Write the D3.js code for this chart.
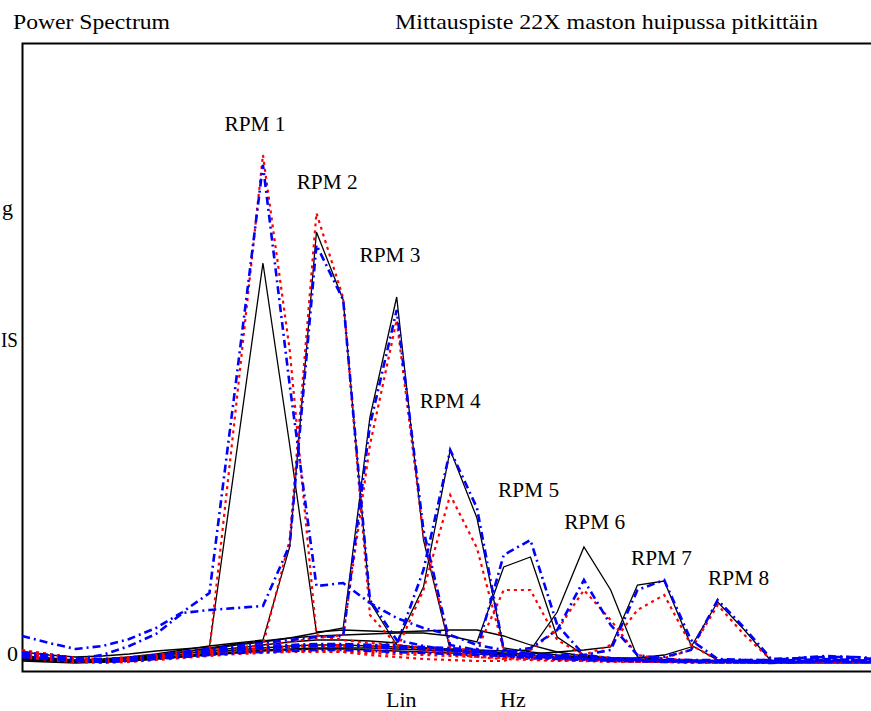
<!DOCTYPE html>
<html>
<head>
<meta charset="utf-8">
<script src="https://cdn.jsdelivr.net/npm/d3@7"></script>
<style>
  body { margin: 0; background: #fff; }
  text { font-family: "Times New Roman", Times, "Liberation Serif", serif; fill: #000; }
</style>
</head>
<body>
<svg width="871" height="711"></svg>
<script>
// frequency bins (Lin Hz), one value per bin
var bins = d3.range(0, 33);

// RPM 1..8, three measurements each: black = solid, red = dotted, blue = dash-dot
var black1 = [1.3,1.0,0.8,0.9,1.1,1.4,1.6,1.8,21.0,40.2,22.0,3.3,3.5,3.4,3.3,3.4,3.5,3.5,2.9,2.0,1.3,0.9,0.7,0.6,0.5,0.5,0.4,0.4,0.3,0.3,0.3,0.2,0.2];
var red1   = [1.4,1.1,0.7,0.6,0.8,1.0,1.3,1.5,26.0,51.0,31.5,3.0,2.5,2.2,2.0,1.7,1.3,1.0,0.8,0.7,0.6,0.5,0.4,0.4,0.3,0.3,0.3,0.2,0.2,0.2,0.3,0.2,0.2];
var blue1  = [2.9,2.2,1.6,1.9,2.6,3.7,5.3,7.2,28.5,50.0,28.0,7.9,8.2,6.2,4.7,3.7,3.0,2.0,1.5,1.1,0.9,0.7,0.6,0.5,0.4,0.4,0.4,0.3,0.3,0.3,0.4,0.3,0.3];

var black2 = [0.9,0.7,0.5,0.6,0.8,1.1,1.5,1.9,2.2,2.5,11.8,43.3,36.5,6.3,2.0,1.7,1.5,1.3,1.1,0.9,0.7,0.6,0.5,0.5,0.4,0.4,0.3,0.3,0.3,0.2,0.2,0.2,0.2];
var red2   = [1.2,0.8,0.5,0.4,0.6,0.9,1.2,1.5,1.7,2.0,12.5,45.2,36.7,5.0,2.0,1.5,1.1,0.8,0.6,0.5,0.4,0.4,0.3,0.3,0.3,0.2,0.2,0.2,0.2,0.2,0.2,0.2,0.2];
var blue2  = [1.0,0.8,0.6,1.0,1.9,3.1,5.2,5.5,5.7,5.9,12.0,42.0,36.5,6.5,2.5,1.9,1.5,1.2,0.9,0.7,0.6,0.5,0.4,0.4,0.3,0.3,0.3,0.3,0.2,0.3,0.4,0.4,0.3];

var black3 = [0.7,0.5,0.4,0.5,0.7,1.0,1.3,1.6,2.0,2.3,2.7,3.2,3.7,24.8,36.8,12.5,1.5,1.3,1.1,0.9,0.8,0.7,0.6,0.5,0.5,0.4,0.4,0.3,0.3,0.3,0.2,0.2,0.2];
var red3   = [0.8,0.5,0.3,0.3,0.5,0.8,1.1,1.4,1.7,2.0,2.3,2.7,3.0,22.0,34.5,13.0,1.7,1.1,0.8,0.6,0.5,0.4,0.4,0.3,0.3,0.3,0.2,0.2,0.2,0.2,0.2,0.2,0.2];
var blue3  = [1.1,0.8,0.5,0.5,0.7,1.0,1.3,1.6,1.9,2.2,2.5,2.8,2.9,24.0,35.5,13.5,2.0,1.5,1.1,0.9,0.7,0.6,0.5,0.4,0.4,0.3,0.3,0.3,0.3,0.3,0.3,0.3,0.3];

var black4 = [0.5,0.4,0.3,0.4,0.6,0.8,1.1,1.4,1.7,2.0,2.3,2.5,2.5,2.4,2.2,7.8,21.5,14.7,1.7,1.3,1.0,0.8,0.6,0.5,0.4,0.4,0.3,0.3,0.3,0.2,0.2,0.2,0.2];
var red4   = [1.0,0.7,0.4,0.3,0.4,0.6,0.9,1.2,1.4,1.6,1.8,1.9,1.9,1.8,1.5,7.5,17.0,11.7,1.5,0.9,0.6,0.5,0.4,0.3,0.3,0.3,0.2,0.2,0.2,0.2,0.2,0.2,0.2];
var blue4  = [0.9,0.7,0.5,0.5,0.6,0.8,1.0,1.3,1.5,1.7,1.9,2.0,2.0,2.0,2.0,9.5,21.5,15.7,1.5,1.1,0.8,0.6,0.5,0.5,0.4,0.4,0.4,0.3,0.3,0.4,0.5,0.5,0.4];

var black5 = [0.8,0.6,0.4,0.4,0.6,0.9,1.3,1.7,2.1,2.4,2.7,2.9,3.0,3.1,3.2,3.2,2.9,2.3,9.8,10.8,2.8,1.0,0.7,0.5,0.4,0.4,0.3,0.3,0.3,0.2,0.2,0.2,0.2];
var red5   = [1.5,1.1,0.7,0.5,0.6,0.8,1.0,1.3,1.5,1.7,1.9,2.0,2.0,1.9,1.8,1.7,1.6,1.5,7.5,7.5,2.5,1.0,0.7,0.5,0.4,0.3,0.3,0.3,0.2,0.2,0.2,0.2,0.2];
var blue5  = [1.3,1.0,0.7,0.6,0.7,0.9,1.2,1.5,1.7,1.9,2.0,2.1,2.1,2.0,1.9,1.8,1.7,1.5,11.0,12.5,4.0,1.0,0.7,0.5,0.4,0.4,0.4,0.4,0.4,0.5,0.6,0.5,0.4];

var black6 = [0.4,0.3,0.2,0.3,0.4,0.6,0.9,1.2,1.5,1.7,1.9,2.0,2.0,1.9,1.8,1.7,1.6,1.5,1.4,1.5,5.3,11.8,7.5,0.8,0.5,0.4,0.3,0.3,0.3,0.2,0.2,0.2,0.2];
var red6   = [1.3,0.9,0.6,0.5,0.6,0.8,1.0,1.2,1.3,1.4,1.5,1.4,1.3,1.0,0.8,0.6,0.5,0.4,0.4,1.5,3.5,7.5,4.5,1.0,0.6,0.5,0.4,0.4,0.3,0.3,0.3,0.3,0.3];
var blue6  = [0.8,0.6,0.4,0.4,0.5,0.7,1.0,1.3,1.5,1.7,1.8,1.9,1.9,1.8,1.7,1.6,1.5,1.4,1.3,1.7,3.5,8.5,4.0,1.0,0.6,0.5,0.5,0.5,0.5,0.6,0.7,0.7,0.6];

var black7 = [0.6,0.5,0.4,0.4,0.5,0.7,0.9,1.1,1.3,1.5,1.6,1.7,1.7,1.7,1.6,1.5,1.4,1.3,1.2,1.1,1.3,1.5,1.8,8.0,8.4,2.0,0.5,0.4,0.3,0.3,0.2,0.2,0.2];
var red7   = [1.1,0.8,0.5,0.4,0.5,0.7,0.9,1.1,1.2,1.3,1.4,1.5,1.5,1.4,1.3,1.2,1.1,1.0,0.9,0.8,0.8,1.0,2.0,5.5,7.0,2.0,0.5,0.4,0.4,0.3,0.4,0.3,0.3];
var blue7  = [1.2,0.9,0.6,0.5,0.6,0.8,1.1,1.4,1.6,1.7,1.8,1.9,1.9,1.8,1.7,1.6,1.4,1.3,1.2,1.1,1.0,1.0,1.5,7.5,8.5,2.5,0.6,0.5,0.5,0.7,0.8,0.8,0.7];

var black8 = [0.7,0.5,0.3,0.3,0.4,0.6,0.8,1.0,1.2,1.4,1.5,1.6,1.6,1.5,1.4,1.3,1.2,1.1,1.0,0.9,0.8,0.8,0.7,0.7,1.0,1.8,6.3,3.5,0.4,0.3,0.3,0.2,0.2];
var red8   = [0.9,0.6,0.3,0.2,0.3,0.5,0.7,0.9,1.1,1.2,1.3,1.3,1.3,1.2,1.1,1.0,0.9,0.8,0.7,0.6,0.6,0.5,0.5,0.5,0.7,1.5,6.0,3.0,0.5,0.4,0.5,0.4,0.3];
var blue8  = [1.0,0.7,0.4,0.3,0.4,0.6,0.8,1.0,1.2,1.3,1.4,1.5,1.5,1.4,1.3,1.2,1.1,1.0,0.9,0.8,0.7,0.7,0.6,0.6,0.8,1.5,6.5,3.7,0.6,0.7,0.9,0.8,0.5];

var blackSeries = [black1, black2, black3, black4, black5, black6, black7, black8];
var redSeries   = [red1, red2, red3, red4, red5, red6, red7, red8];
var blueSeries  = [blue1, blue2, blue3, blue4, blue5, blue6, blue7, blue8];

// RPM annotations, placed in data coordinates (bin, value)
var rpmNames  = ["RPM 1","RPM 2","RPM 3","RPM 4","RPM 5","RPM 6","RPM 7","RPM 8"];
var rpmBins   = [8.70, 11.40, 13.75, 16.00, 18.93, 21.40, 23.90, 26.78];
var rpmValues = [53.4, 47.6, 40.3, 25.7, 16.8, 13.6, 10.0, 8.0];

var svg = d3.select("svg"),
    width = +svg.attr("width"),
    height = +svg.attr("height");

var x = d3.scaleLinear().domain([0, 32]).range([22.2, 878.2]);
var y = d3.scaleLinear().domain([0, 60]).range([665, 65]);

var line = d3.line()
    .x(function(d, i) { return x(bins[i]); })
    .y(function(d) { return y(d); });

// frame
svg.append("rect")
    .attr("x", 22.5)
    .attr("y", 43.5)
    .attr("width", 870)
    .attr("height", 628)
    .attr("fill", "none")
    .attr("stroke", "#000")
    .attr("stroke-width", 2);

var plot = svg.append("g");

plot.selectAll(".black")
  .data(blackSeries)
  .enter().append("path")
    .attr("class", "black")
    .attr("d", line)
    .attr("fill", "none")
    .attr("stroke", "#000")
    .attr("stroke-width", 1.3);

plot.selectAll(".red")
  .data(redSeries)
  .enter().append("path")
    .attr("class", "red")
    .attr("d", line)
    .attr("fill", "none")
    .attr("stroke", "#ff0000")
    .attr("stroke-width", 2.2)
    .attr("stroke-dasharray", "3,4");

plot.selectAll(".blue")
  .data(blueSeries)
  .enter().append("path")
    .attr("class", "blue")
    .attr("d", line)
    .attr("fill", "none")
    .attr("stroke", "#0000ff")
    .attr("stroke-width", 2.6)
    .attr("stroke-dasharray", "8,4,2,4");

// RPM labels
svg.selectAll(".rpm")
  .data(rpmNames)
  .enter().append("text")
    .attr("class", "rpm")
    .attr("x", function(d, i) { return x(rpmBins[i]); })
    .attr("y", function(d, i) { return y(rpmValues[i]); })
    .attr("text-anchor", "middle")
    .attr("font-size", 20)
    .attr("textLength", 61)
    .attr("lengthAdjust", "spacingAndGlyphs")
    .text(function(d) { return d; });

// titles
svg.append("text")
    .attr("x", 13).attr("y", 29)
    .attr("font-size", 22)
    .attr("textLength", 157)
    .attr("lengthAdjust", "spacingAndGlyphs")
    .text("Power Spectrum");

svg.append("text")
    .attr("x", 395).attr("y", 29)
    .attr("font-size", 22)
    .attr("textLength", 423)
    .attr("lengthAdjust", "spacingAndGlyphs")
    .text("Mittauspiste 22X maston huipussa pitkittäin");

// y axis pieces
svg.append("text")
    .attr("x", 13).attr("y", 215)
    .attr("text-anchor", "end")
    .attr("font-size", 22)
    .text("g");

svg.append("text")
    .attr("x", 1).attr("y", 347)
    .attr("font-size", 21)
    .attr("textLength", 17)
    .attr("lengthAdjust", "spacingAndGlyphs")
    .text("IS");

svg.append("text")
    .attr("x", 18).attr("y", 661)
    .attr("text-anchor", "end")
    .attr("font-size", 22)
    .text("0");

// x axis pieces
svg.append("text")
    .attr("x", 386).attr("y", 707)
    .attr("font-size", 22)
    .text("Lin");

svg.append("text")
    .attr("x", 500).attr("y", 707)
    .attr("font-size", 22)
    .text("Hz");
</script>
</body>
</html>
